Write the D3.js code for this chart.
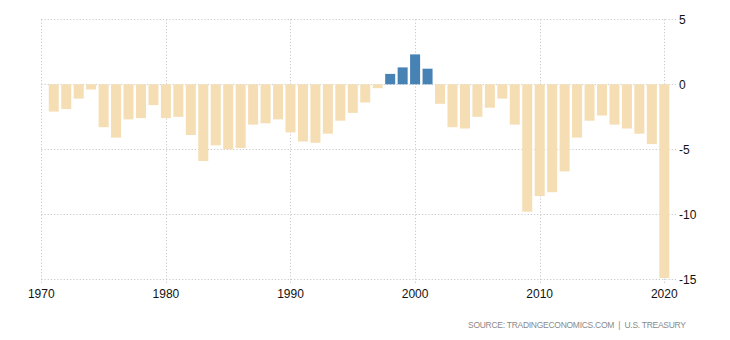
<!DOCTYPE html>
<html><head><meta charset="utf-8">
<script src="https://cdn.jsdelivr.net/npm/d3@7"></script>
<style>body{margin:0;background:#fff;}svg{display:block;font-family:Arial,"Liberation Sans",sans-serif;}</style>
</head><body>
<svg id="c" width="730" height="340"></svg>
<script>
const years = d3.range(1971, 2021);
const values = [-2.1,-1.9,-1.1,-0.4,-3.3,-4.1,-2.7,-2.6,-1.6,-2.6,
  -2.5,-3.9,-5.9,-4.7,-5.0,-4.9,-3.1,-3.0,-2.7,-3.7,
  -4.4,-4.5,-3.8,-2.8,-2.2,-1.4,-0.3,0.8,1.3,2.3,
  1.2,-1.5,-3.3,-3.4,-2.5,-1.8,-1.1,-3.1,-9.8,-8.6,
  -8.3,-6.7,-4.1,-2.8,-2.4,-3.1,-3.4,-3.8,-4.6,-14.9];
const xTicks = [1970,1980,1990,2000,2010,2020];
const yTicks = [5,0,-5,-10,-15];
const sourceText = "SOURCE: TRADINGECONOMICS.COM  |  U.S. TREASURY";

const svg = d3.select("#c");
const x = d3.scaleLinear().domain([1970,2020]).range([41.3,664.3]);
const y = d3.scaleLinear().domain([-15,5]).range([279.3,19.3]);
const gridRight = 676;

const grid = svg.append("g").attr("stroke","#c8c8c8").attr("stroke-dasharray","1.2,2").attr("stroke-width",1);
yTicks.forEach(t=>{
  grid.append("line").attr("x1",x(1970)).attr("x2",gridRight).attr("y1",Math.round(y(t))+0.5).attr("y2",Math.round(y(t))+0.5);
});
xTicks.forEach(t=>{
  grid.append("line").attr("x1",Math.round(x(t))+0.5).attr("x2",Math.round(x(t))+0.5).attr("y1",y(5)).attr("y2",y(-15)+4);
});

const bw = 10;
svg.append("g").selectAll("rect").data(values).join("rect")
  .attr("x",(d,i)=>x(years[i])-bw/2)
  .attr("width",bw)
  .attr("y",d=>y(Math.max(0,d)))
  .attr("height",d=>Math.abs(y(d)-y(0)))
  .attr("fill",d=>d>=0?"#4682B4":"#F5DEB3");

svg.append("g").selectAll("text").data(yTicks).join("text")
  .attr("x",679).attr("y",d=>y(d)+4.5)
  .attr("font-size",12).attr("fill","#111").text(d=>d);

svg.append("g").selectAll("text").data(xTicks).join("text")
  .attr("x",d=>x(d)).attr("y",298).attr("text-anchor","middle")
  .attr("font-size",12).attr("fill","#111").text(d=>d);

svg.append("text").attr("x",468).attr("y",328)
  .attr("font-size",8.5).attr("fill","#8a8a8a")
  .attr("textLength",218).attr("lengthAdjust","spacing")
  .style("white-space","pre").text(sourceText);
</script>
</body></html>
